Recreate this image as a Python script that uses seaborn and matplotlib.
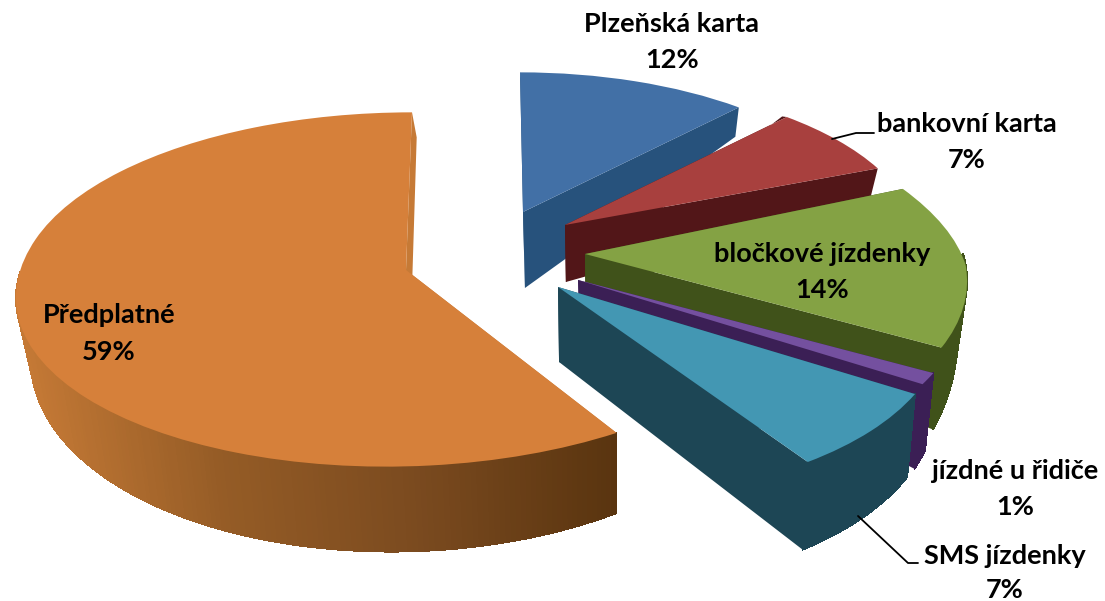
import numpy as np
import matplotlib
matplotlib.use("Agg")
import matplotlib.pyplot as plt
from matplotlib.transforms import Transform
from matplotlib.colors import LinearSegmentedColormap, to_rgb
import seaborn as sns

categories = ["Plzeňská karta", "bankovní karta", "bločkové jízdenky",
              "jízdné u řidiče", "SMS jízdenky", "Předplatné"]
shares = [12, 7, 14, 1, 7, 59]
share_labels = ["12%", "7%", "14%", "1%", "7%", "59%"]

face_colors = ["#4270A6", "#A8403E", "#84A244", "#74509F", "#4397B3", "#D6803A"]
wall_ramps = [["#2B4F7E", "#27527C"], ["#701B22", "#521618"], ["#40521A", "#40521A"],
              ["#3B1F55", "#3B1F55"], ["#1D4655", "#1D4655"],
              ["#C67A36", "#955C26", "#7A4A1F", "#59340F"]]
# apex x, apex y, A, B, wall at centre, wall slope, shear up, shear down
geometry = [(523, 212, 344, 155, 76, 64, -3, 0),
            (565, 225, 350, 160, 57, 79, 0, 0),
            (585, 254, 378, 184, 40, 87, -54, -14),
            (578, 280, 384, 183, 15, 130, 0, 0),
            (558, 287, 380, 188, 75, 15, 0, -30),
            (406, 270, 385, 175, 55, 30, 6, 20)]
perspective = 0.11
wall_pull = 0.025
label_xy = [(672, 42), (967, 142), (822, 272), (1015, 489), (1005, 573.5), (109, 333.5)]
line_gap = [18, 18, 18, 18, 17, 18.5]
leaders = [None, ((832, 139), (856, 133), (874, 133)), None, None,
           ((858, 516), (908, 563), (918, 563)), None]


class Tilt(Transform):
    input_dims = 2
    output_dims = 2
    has_inverse = False

    def __init__(self, g, drop=False):
        super().__init__()
        self.g = g
        self.drop = drop

    def transform_non_affine(self, values):
        ax_, ay_, A, B, hc, hy, su, sd = self.g
        v = np.asarray(values, float)
        X, Y = v[:, 0], v[:, 1]
        s = 1 / (1 + perspective * Y)
        x = ax_ + A * X * s + np.where(Y > 0, su * Y, sd * Y)
        y = ay_ - B * Y * s
        if self.drop:
            y = y + (hc - hy * Y)
            x = x + wall_pull * (600 - x)
        return np.column_stack([x, y])


sns.set_theme(style="white")
plt.rcParams["font.family"] = ["Lato", "DejaVu Sans"]

fig = plt.figure(figsize=(11.05, 6.01), dpi=100)
ax = fig.add_axes([0, 0, 1, 1])
wedges, _ = ax.pie(shares, colors=sns.color_palette(face_colors),
                   startangle=90, counterclock=False)
ax.set_aspect("auto")
ax.set_xlim(0, 1105)
ax.set_ylim(601, 0)
ax.axis("off")


def unit(deg):
    t = np.radians(deg)
    return np.column_stack([np.cos(t), np.sin(t)])


for i, (w, g) in enumerate(zip(wedges, geometry)):
    z = 2 + i
    w.set_transform(Tilt(g) + ax.transData)
    w.set_zorder(z + 0.5)
    w.set_linewidth(0)
    w.set_clip_on(False)
    top, low = Tilt(g), Tilt(g, drop=True)
    ramp = LinearSegmentedColormap.from_list("w", [to_rgb(c) for c in wall_ramps[i]])
    # flat cut walls along both radial edges
    for th in (w.theta1, w.theta2):
        rim = unit([th])
        apex = np.array([[0.0, 0.0]])
        poly = np.vstack([top.transform_non_affine(apex), top.transform_non_affine(rim),
                          low.transform_non_affine(rim), low.transform_non_affine(apex)])
        ax.fill(poly[:, 0], poly[:, 1], color=wall_ramps[i][-1 if i < 5 else 0],
                lw=0, zorder=z)
    # rounded outer wall, drawn as narrow shaded strips
    ang = np.linspace(w.theta1, w.theta2, max(8, int((w.theta2 - w.theta1) / 0.75)))
    pts_t = top.transform_non_affine(unit(ang))
    pts_b = low.transform_non_affine(unit(ang))
    xmin, xmax = pts_t[:, 0].min(), pts_t[:, 0].max()
    for k in range(len(ang) - 1):
        if np.sin(np.radians(ang[k])) > 0:
            continue
        poly = np.vstack([pts_t[k], pts_t[k + 1], pts_b[k + 1], pts_b[k]])
        f = (pts_t[k, 0] - xmin) / max(xmax - xmin, 1)
        ax.fill(poly[:, 0], poly[:, 1], facecolor=ramp(f), edgecolor=ramp(f), lw=0.6,
                antialiased=False, zorder=z + 0.1)

for name, pct, (lx, ly), gap, lead in zip(categories, share_labels, label_xy, line_gap, leaders):
    ax.text(lx, ly - gap, name, ha="center", va="center", fontsize=19.5,
            fontweight="bold", color="black", zorder=20)
    ax.text(lx, ly + gap, pct, ha="center", va="center", fontsize=19.5,
            fontweight="bold", color="black", zorder=20)
    if lead:
        ax.plot(*zip(*lead), color="black", lw=1.3, zorder=19)

fig.savefig("out.png", dpi=100)
